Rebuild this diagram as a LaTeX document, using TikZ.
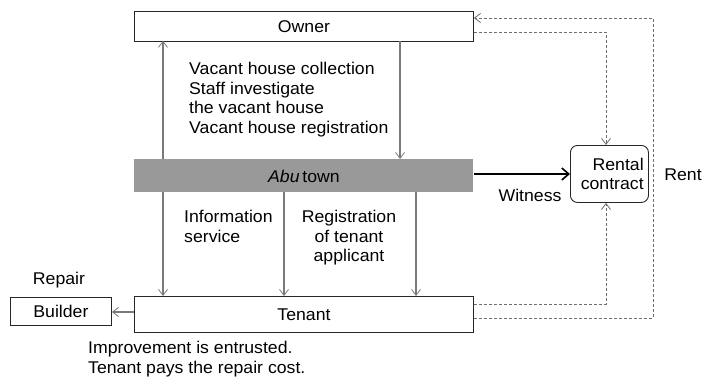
\documentclass[tikz,border=0pt]{standalone}
\usepackage{fontspec}
\setmainfont{Liberation Sans}[FakeStretch=1.04]
\usetikzlibrary{arrows.meta}
\definecolor{barfill}{HTML}{999999}
\definecolor{lnc}{HTML}{7A7A7A}
\definecolor{dsh}{HTML}{6E6E6E}
\begin{document}
\begin{tikzpicture}[x=1pt,y=-1pt,
  every node/.style={font=\fontsize{17}{19.5}\selectfont, inner sep=0pt},
  box/.style={draw=black!85, line width=0.9pt, fill=white, minimum height=#1, anchor=north west},
  flow/.style={draw=lnc, line width=1.1pt, -{Straight Barb[length=6pt,width=9pt,line width=0.8pt]}},
  dflow/.style={draw=dsh, line width=0.9pt, dash pattern=on 3pt off 2pt, -{Straight Barb[length=6pt,width=9pt,line width=0.8pt]}},
  dline/.style={draw=dsh, line width=0.9pt, dash pattern=on 3pt off 2pt},
  lbl/.style={align=left, anchor=north west}]
\useasboundingbox (0,0) rectangle (707,383);
% boxes
\node[box=30pt, minimum width=339pt] (owner) at (134,11) {};
\node at (owner.center) {Owner};
\node[box=33pt, minimum width=339pt, fill=barfill, draw=none] (abu) at (134,159) {};
\node at (abu.center) {\textit{Abu}\,town};
\node[box=36pt, minimum width=339pt] (tenant) at (134,296) {};
\node at (tenant.center) {Tenant};
\node[box=28pt, minimum width=101pt] (builder) at (10,297) {};
\node at (builder.center) {Builder};
\node[draw=black!85, line width=0.9pt, rounded corners=7pt, minimum width=78pt, minimum height=57pt, anchor=north west] (rent) at (570,145) {};
\node[align=right, anchor=east] at ([xshift=-5pt]rent.east) {Rental\\contract};
% coordinates
\coordinate (o1) at (163,40.7);
\coordinate (a1) at (163,159);
\coordinate (o2) at (400,40.7);
\coordinate (a2) at (400,159);
\coordinate (b1) at (163,192);
\coordinate (t1) at (163,296);
\coordinate (b2) at (284,192);
\coordinate (t2) at (284,296);
\coordinate (b3) at (416,192);
\coordinate (t3) at (416,296);
% arrows
\draw[flow] (a1) -- (o1);
\draw[flow] (o2) -- (a2);
\draw[flow] (b1) -- (t1);
\draw[flow] (b2) -- (t2);
\draw[flow] (b3) -- (t3);
\draw[flow] (tenant.west |- 0,312) -- (builder.east |- 0,312);
\draw[line width=2.4pt, -{Straight Barb[length=7pt,width=12pt,line width=1.6pt]}] (abu.east |- 0,174) -- (rent.west |- 0,174);
% dashed
\draw[dflow] (owner.east |- 0,32) -| (606,0 |- rent.north);
\draw[dflow] (tenant.east |- 0,304) -| (606,0 |- rent.south);
\draw[dflow] (tenant.east |- 0,318) -| (653,18) -- (owner.east |- 0,18);
% labels
\node[lbl] at (189,62) {Vacant house collection\\Staff investigate\\the vacant house\\Vacant house registration};
\node[lbl] at (184,210) {Information\\service};
\node[align=center, anchor=north] at (349,210) {Registration\\of tenant\\applicant};
\node at (59,280) {Repair};
\node at (530,195) {Witness};
\node at (683,175) {Rent};
\node[lbl] at (88,341) {Improvement is entrusted.\\Tenant pays the repair cost.};
\end{tikzpicture}
\end{document}
